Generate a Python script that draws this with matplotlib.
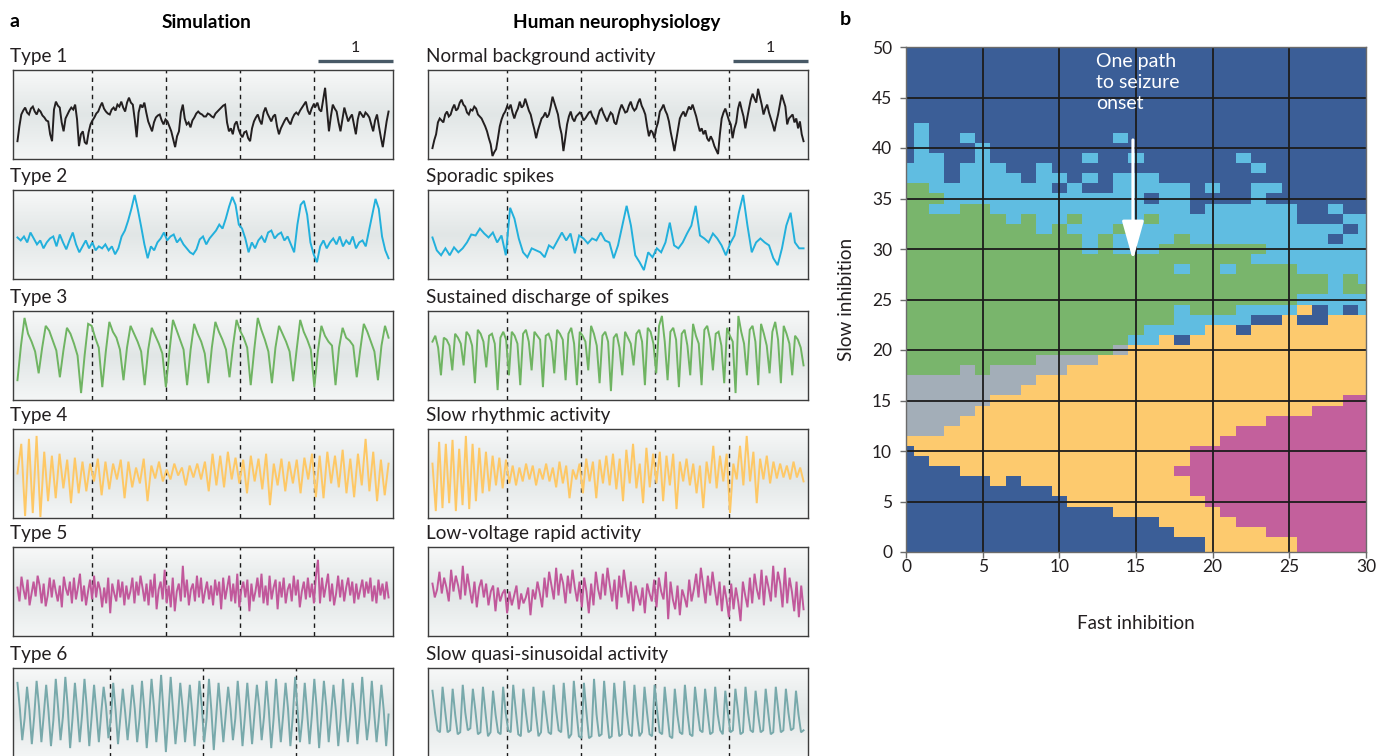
"""Neural mass model: simulated vs. recorded EEG types and the inhibition phase map."""

import numpy as np
import matplotlib
matplotlib.use("Agg")
import matplotlib.pyplot as plt
from matplotlib.colors import ListedColormap, LinearSegmentedColormap

plt.rcParams['font.family'] = ['Lato', 'DejaVu Sans']

# ---------------------------------------------------------------- panel a data
# trace amplitudes in pixels above the centre of each box
SIM_LABELS = ["Type 1", "Type 2", "Type 3", "Type 4", "Type 5", "Type 6"]
HUMAN_LABELS = ["Normal background activity", "Sporadic spikes",
                "Sustained discharge of spikes", "Slow rhythmic activity",
                "Low-voltage rapid activity", "Slow quasi-sinusoidal activity"]
TRACE_COLORS = ["#231f20", "#22b0dc", "#6fb462", "#fec865", "#c1589b", "#78a9ab"]

sim_type1 = [-27, -12, 0, 4, 7, 2, 0, 6, 8, 3, 0, 5, 3, -1, -3, -6, -7, -20, -27, 5,
             13, 9, 7, -8, -17, -4, 0, 4, 7, 5, 10, -5, -32, -20, -17, -28, -30, -18,
             -10, -6, -3, 1, 3, 8, 12, 6, 3, 1, 0, 5, 7, 4, 10, 8, 13, 7, 3, 12, 17,
             12, 10, -5, -23, 2, 10, 7, 12, 2, -7, -12, -17, -8, -3, -1, 0, -6, -10,
             -5, -7, -12, -17, -25, -33, -22, -17, 2, 10, -4, -10, -8, -13, -6, -3, 1,
             3, 1, 0, -2, -2, 1, 0, -2, -3, 1, 3, 5, 7, 9, 10, -8, -17, -14, -20, -10,
             -7, -15, -20, -23, -18, -17, -24, -27, -14, -7, -3, 0, -6, -10, 2, 7, 1,
             -3, -7, -2, 0, -12, -20, -14, -10, -6, -3, -7, -10, -4, 0, 2, 0, 4, 7, 10,
             13, 4, 0, 6, 10, 8, 12, 5, 3, 15, 27, 5, -17, -2, 10, 6, 3, -8, -17, -5, 7,
             0, -7, -3, 0, -10, -20, -5, 3, 0, -3, 2, 0, -3, -10, -17, -6, 0, -12, -23,
             -33, -20, -7, 3]
sim_type2 = [-3, -6, -2, -8, 2, -4, -10, -6, -14, -8, -4, -2, -12, 0, -8, -15, -6,
             2, -10, -18, -12, -6, -14, -8, -16, -12, -14, -10, -16, -12, -20, -14,
             -2, 4, 14, 26, 40, 25, 8, -10, -24, -12, -16, -8, -4, 2, -6, -2, 0, -8,
             -4, -10, -14, -18, -20, -15, -5, -2, -10, -4, 0, 4, 10, 6, 16, 28, 38,
             30, 10, 6, -4, -18, -8, -14, -6, -2, -8, 2, 4, -4, 0, 2, -6, -2, -10,
             -18, 10, 30, 34, 20, -8, -20, -28, -12, -6, -14, -8, -4, -10, -2, -12,
             -6, -10, -2, -14, -8, -6, -12, 4, 20, 36, 26, -2, -16, -24]
sim_type3 = [-25, 10, 38, 22, 14, 4, -18, 8, 30, 25, 15, 5, -22, 5, 28, 22, 12, 0,
             -38, 0, 32, 30, 18, 8, -32, 4, 34, 24, 18, 6, -25, 8, 30, 22, 14, 4,
             -30, 6, 28, 20, 12, 2, -32, 4, 36, 26, 16, 6, -30, 6, 32, 22, 14, 2,
             -28, 8, 34, 24, 16, 6, -22, 10, 36, 25, 18, 8, -30, 6, 38, 26, 16, 4,
             -28, 8, 30, 22, 14, 4, -26, 6, 36, 24, 16, 6, -32, 4, 30, 20, 14, 10,
             -30, 8, 28, 18, 15, 10, -22, 6, 32, 24, 14, 4, -25, 10, 30, 18]
sim_type4 = [0, 30, -43, 35, -40, 38, -44, 22, -28, 18, -25, 20, -15, 14, -30, 16,
             -20, 12, -18, 10, -8, 15, -22, 12, -16, 10, -6, 14, -25, 12, -14, 6,
             -10, 15, -28, 8, -5, 12, -8, 4, -6, 10, -2, 6, -12, 8, -4, 10, -6, 12,
             -18, 20, -12, 18, -14, 22, -6, 16, -10, 14, -20, 18, -8, 15, -16, 20,
             -32, 10, -12, 15, -18, 12, -10, 14, -20, 16, -6, 20, -24, 18, -25, 22,
             -10, 18, -14, 24, -20, 15, -24, 20, -12, 35, -18, 22, -28, 14, -22, 10]
sim_type5 = [4, -10, 15, 2, -8, 12, -14, -2, 10, -5, 16, 6, -12, 8, -15, -4, 14, -6,
             12, 0, -10, 6, -16, 15, 3, -4, 10, -12, 14, -8, 4, 18, -10, 6, -14, 0, 12,
             -8, 16, -6, 10, 2, -16, 4, -12, 14, -22, 8, -2, -10, 12, -6, 10, -14, 6,
             -8, 0, 14, -12, 10, -4, 16, 4, -10, 8, -14, 12, -6, 18, -18, 2, 10, -8, 22,
             -12, 6, -16, 14, -20, 0, 8, -10, 26, -6, 12, -14, 2, 8, -10, 16, -6, 14,
             -12, 0, 10, -8, 6, -14, 12, -4, 10, -18, 14, -8, 4, 16, -10, 8, -12, 18,
             -16, 2, 10, -6, 12, -20, 8, -10, 0, 14, -6, 18, -12, 6, -14, 16, -8, 4, 12,
             -18, 10, -6, 14, -12, 2, 8, -10, 16, -4, 12, -16, 0, 10, -8, 14, -6, 8,
             -12, 16, 32, -12, 14, -6, 6, 18, -10, 8, -14, -2, 16, -6, 12, -10, 4, 14,
             -4, 10, -12, 8, -8, 2, 12, -6, 10, -2, 14, -10, 6, -12, 12, -4, 8, -8, 10,
             -6]
sim_type6 = [30, 4, -28, -6, 26, 2, -32, -4, 32, 6, -30, -2, 28, 0, -34, -8, 34, 4,
             -28, -4, 36, 6, -36, -6, 30, 2, -30, -2, 34, 4, -34, -4, 28, 0, -30, 0,
             26, 6, -26, -6, 30, 2, -32, -4, 24, 0, -28, -2, 28, 4, -30, -6, 32, 2,
             -36, -4, 34, 6, -30, -2, 38, 0, -40, -4, 36, 2, -32, -6, 30, 4, -30, -2,
             28, 0, -34, -4, 32, 6, -30, -6, 34, 2, -38, -4, 30, 0, -30, -2, 26, 4,
             -28, -6, 32, 2, -34, -4, 30, 0, -32, -2, 28, 6, -28, -4, 32, 2, -36, -6,
             34, 0, -30, -2, 30, 4, -34, -4, 36, 2, -30, -6, 30, 0, -32, -2, 34, 4,
             -36, -4, 32, 6, -30, -2, 28, 2, -34, -6, 34, 0, -30, -4, 30, 4, -32, -2,
             36, 2, -28, -6, 32, 0, -30, -4, 28, 2, -34, -2]

human_normal = [-34, -26, -20, -8, -4, -6, -8, 0, 3, -2, 0, 6, 10, 4, 6, 12, 15, 10,
                8, 2, 0, 5, 4, 8, 6, 0, -2, -4, -8, -12, -17, -24, -30, -42, -38, -35,
                -24, -12, -5, 0, 3, 8, 6, 10, 2, -4, 2, 6, 13, 7, 9, 16, 10, 4, 0, -8,
                -15, -24, -16, -10, -4, -2, 2, -3, 0, 8, 18, 12, 6, 0, -12, -20, -37,
                -24, -10, -2, 3, -4, -7, -2, 0, 2, 0, -6, -4, -1, 2, 3, -2, -5, -10, -2,
                4, 6, 1, -3, -7, -2, 2, 0, -8, -10, -2, 5, 10, 6, 2, 3, 9, 13, 7, 4, 6,
                12, 16, 9, 5, 0, -12, -22, -16, -18, -24, -14, -8, 3, 6, 10, 4, 0, -7,
                -18, -27, -37, -26, -15, -4, 0, 3, -2, 3, 8, 5, 10, 4, -2, -10, -17,
                -14, -20, -16, -24, -27, -22, -26, -32, -36, -40, -20, -4, 2, 6, 0, -6,
                -10, -24, -14, -8, 6, 13, 5, -2, -14, -4, 6, 15, 21, 16, 12, 26, 18, 10,
                0, 6, 10, 2, -4, -10, -17, -8, 0, 10, 20, 14, 8, -10, -4, -2, 0, -8, -4,
                -14, -7, -20, -27]
human_sporadic = [-3, -16, -21, -14, -21, -13, -18, -14, -8, 0, -1, 6, 1, -3, 2, -8,
                  -1, -21, 27, 16, -4, -18, -23, -14, -16, -18, -23, -11, -14, -6, 2,
                  -6, 1, -19, -1, -4, -9, -4, -6, 2, -6, -8, -24, -11, 9, 29, 9, -21,
                  -28, -36, -18, -23, -14, -18, -8, 12, -11, -14, -8, 1, 9, 29, -1, -4,
                  -8, 1, -4, -11, -21, -9, -1, 22, 40, 9, -18, -8, -4, -8, -11, -24,
                  -31, -14, 9, 22, -8, -14, -14]
human_sustained = [14, 20, 8, -20, 18, 16, 10, -15, 22, 18, 12, -10, 24, 20, 10, -28,
                   26, 22, 14, -12, 20, 22, 12, -35, 18, 24, 16, -20, 24, 20, 12, -30,
                   22, 26, 14, -15, 24, 20, 16, -32, 20, 22, 14, -18, 26, 22, 16, -25,
                   22, 28, 12, -30, 24, 20, 14, -15, 30, 22, 10, -28, 20, 24, 14, -36,
                   18, 22, 8, -20, 24, 18, 12, -10, 22, 26, 14, -30, 28, 24, 12, -18,
                   30, 40, 14, -25, 24, 28, 16, -32, 22, 26, 10, -20, 32, 20, 12, -30,
                   26, 30, 16, -15, 22, 24, 10, -28, 28, 20, 14, -38, 40, 24, 12, -20,
                   26, 30, 14, -30, 32, 22, 10, -18, 24, 34, 16, -28, 30, 22, 12, -20,
                   20, 16, 8, -10]
human_rhythmic = [10, -38, 32, -35, 30, -30, 34, -38, 25, -32, 38, -36, 30, -28, 26,
                  -20, 22, -18, 18, -12, 16, -15, 14, -10, 8, -12, 6, -8, 10, -6, 8,
                  -12, 5, -6, 10, -8, 6, -14, 12, -10, 8, -25, 4, -6, 10, -20, 15, -8,
                  12, -25, 14, -10, 18, -12, 20, -16, 15, -28, 24, -10, 30, -15, 10,
                  -30, 26, -14, 20, -10, 22, -28, 18, -12, 20, -36, 12, -8, 15, -12, 10,
                  -20, 8, -35, 12, -10, 28, -15, 18, -8, 20, -40, 10, -6, 28, -12, 38,
                  -8, 22, -30, 15, -6, 18, -10, 12, -5, 10, -4, 8, -6, 12, -4, 6, -8]
human_rapid = [8, -6, 2, 20, -2, 14, 4, -10, 22, 0, 16, 6, -8, 26, -4, 18, 2, -12, 10,
               -16, 4, 12, -6, 8, -14, 0, 6, -20, 4, -10, -2, 2, -22, 0, -14, -4, 6,
               -18, -2, -12, -6, 4, -24, 2, -8, 10, -2, -16, 14, -6, 20, 6, -8, 24, -4,
               18, 8, -12, 16, -2, 22, 4, -10, 10, -16, 14, 0, -22, 8, -14, 20, 2, -8,
               18, -4, 24, 6, -10, 12, -18, 16, -6, 22, 4, -12, 10, -20, 6, -4, -14, 4,
               -22, 8, -2, -10, 12, -16, 14, 0, -8, 20, -28, 10, -8, -18, 6, -24, 2, -6,
               -16, 12, -10, 2, 18, -6, 24, 6, -12, 16, -4, 20, 2, -14, 10, -20, 6, -8,
               -26, 8, -18, 4, -10, -30, 10, -4, -16, 14, -12, 18, 2, -8, 22, -14, 16,
               4, -10, 26, -6, 20, 8, -16, 24, -12, 14, 0, -20, 10, -26, 6, -18]
human_sinusoidal = [22, 0, -18, -20, 26, 2, -20, -18, 24, -2, -22, -20, 28, 0, -18,
                    -16, 24, 2, -22, -20, 26, 0, -24, -20, 22, -2, -20, -22, 26, 0,
                    -18, -20, 28, 2, -22, -24, 24, 0, -20, -18, 26, -2, -24, -20, 22,
                    0, -20, -22, 28, 2, -18, -20, 30, 0, -26, -22, 32, 2, -24, -26, 30,
                    0, -26, -24, 34, -2, -24, -22, 32, 0, -26, -24, 30, 2, -24, -22, 32,
                    0, -22, -24, 28, -2, -24, -20, 26, 0, -22, -24, 28, 2, -20, -22, 26,
                    0, -24, -26, 24, -2, -20, -22, 28, 0, -22, -24, 26, 2, -18, -20, 24,
                    0, -22, -20, 26, -2, -18, -22, 22, 0, -20, -18, 24, 2, -22, -20, 26,
                    0, -18, -20, 22, -2, -20, -18, 24, 0, -22, -20, 26, 2, -20, -18, 24,
                    0, -18, -16, 22, -2, -20, -18]

SIM_TRACES = [sim_type1, sim_type2, sim_type3, sim_type4, sim_type5, sim_type6]
HUMAN_TRACES = [human_normal, human_sporadic, human_sustained, human_rhythmic,
                human_rapid, human_sinusoidal]

# ---------------------------------------------------------------- panel b data
# phase map cells (x = 0..30, y = 0..50); each column lists "class + top row"
# from the bottom: D dark blue, Y yellow, M magenta, G grey, N green, L light blue
CLASS_CODES = "DYMGNL"
CLASS_COLORS = ["#3b5e97", "#fdca6e", "#c3609c", "#a3aeb8", "#79b56c", "#60bde1"]
MAP_COLUMNS = [
    "D10 Y11 G17 N36 L38 D50",
    "D9 Y11 G17 N36 L42 D50",
    "D8 Y11 G17 N33 L34 N35 L39 D50",
    "D8 Y12 G17 N33 L36 D50",
    "D7 Y13 G18 N34 L38 D40 L41 D50",
    "D7 Y14 G17 N34 L40 D50",
    "D6 Y15 G18 N33 L38 D50",
    "D7 Y15 G18 N32 L37 D50",
    "D6 Y16 G18 N33 L36 D50",
    "D6 Y17 G19 N31 L38 D50",
    "D5 Y17 G19 N32 L35 D36 L37 D50",
    "D4 Y18 G19 N31 L32 N33 L36 D50",
    "D4 Y18 G19 N29 L35 D36 L37 D38 L39 D50",
    "D4 Y19 N31 L35 D50",
    "D3 Y19 G20 N29 L31 N32 L37 D40 L41 D50",
    "D3 Y20 L21 N29 L37 D38 L39 D50",
    "D3 Y20 L22 N29 L32 N33 L34 D35 L37 D50",
    "D2 Y21 L22 N30 L36 D50",
    "D1 Y7 M8 Y20 D21 L24 N27 L28 N31 L36 D50",
    "D1 Y5 M10 Y21 L23 N30 L33 D50",
    "Y4 M10 Y22 L23 N30 L34 D35 L36 D50",
    "Y3 M11 Y22 L23 N27 L28 N30 L34 D50",
    "Y2 M12 Y21 D22 L24 N30 L34 D38 L39 D50",
    "Y2 M12 Y22 D23 L24 N28 L29 N30 L36 D37 L38 D50",
    "Y1 M13 Y22 D23 L24 N28 L34 D35 L36 D50",
    "Y1 M13 Y23 L24 N28 L34 D50",
    "M13 Y22 D23 Y24 L25 N27 L32 D50",
    "M14 Y22 D24 L25 N27 L32 D50",
    "M14 Y23 L30 D31 L32 D33 L34 D50",
    "M15 Y23 D24 L25 N27 L31 D32 L33 D50",
    "M15 Y23 L25 N26 L33 D50",
]
X_TICKS = [0, 5, 10, 15, 20, 25, 30]
Y_TICKS = [0, 5, 10, 15, 20, 25, 30, 35, 40, 45, 50]

# ---------------------------------------------------------------- layout
W, H = 1390, 756
fig = plt.figure(figsize=(W / 100, H / 100), dpi=100)


def add_px_axes(left, top, width, height):
    return fig.add_axes([left / W, 1 - (top + height) / H, width / W, height / H])


BOX_TOPS = [70, 190, 311, 429, 547, 668]
BOX_H = 89
BOX_W = 380
COL_LEFTS = [13, 428]
LABEL_XS = [10, 426]

box_bg = LinearSegmentedColormap.from_list(
    "box", ["#f7f8f8", "#e1e6e6", "#f4f6f6"])
gradient = np.linspace(0, 1, 64).reshape(-1, 1)


def draw_trace(ax, values, color, seps):
    ax.imshow(gradient, extent=(-0.01, 1.01, -45, 45), cmap=box_bg,
              aspect="auto", zorder=0)
    xs = np.linspace(0, 1, len(values))
    ax.plot(xs, values, color=color, lw=1.4, solid_joinstyle="miter", zorder=3)
    for s in seps:
        ax.axvline(s, color="#1a1a1a", lw=1.0, ls=(0, (3.2, 3.0)), zorder=2)
    ax.set_xlim(-0.012, 1.012)
    ax.set_ylim(-45, 45)
    ax.set_xticks([])
    ax.set_yticks([])
    for sp in ax.spines.values():
        sp.set_color("#3d3d3d")
        sp.set_linewidth(1.0)


fifths = [0.2, 0.4, 0.6, 0.8]
quarters = [0.25, 0.5, 0.75]
for row in range(6):
    top = BOX_TOPS[row]
    for col, (labels, traces) in enumerate([(SIM_LABELS, SIM_TRACES),
                                            (HUMAN_LABELS, HUMAN_TRACES)]):
        ax = add_px_axes(COL_LEFTS[col], top, BOX_W, BOX_H)
        seps = quarters if (col == 0 and row == 5) else fifths
        draw_trace(ax, traces[row], TRACE_COLORS[row], seps)
        fig.text(LABEL_XS[col] / W, 1 - (top - 8) / H, labels[row],
                 fontsize=13.6, color="#231f20", va="baseline", ha="left")

# headers and scale bars
fig.text(10 / W, 1 - 27 / H, "a", fontsize=14, fontweight="bold", va="baseline")
fig.text(206 / W, 1 - 28 / H, "Simulation", fontsize=13.7, fontweight="bold",
         va="baseline", ha="center")
fig.text(617 / W, 1 - 28 / H, "Human neurophysiology", fontsize=13.7,
         fontweight="bold", va="baseline", ha="center")
fig.text(840 / W, 1 - 25 / H, "b", fontsize=14, fontweight="bold", va="baseline")

over = fig.add_axes([0, 0, 1, 1])
over.set_xlim(0, W)
over.set_ylim(H, 0)
over.axis("off")
for left in COL_LEFTS:
    bar_right = left + BOX_W
    over.plot([bar_right - 75, bar_right], [61, 61], color="#485966", lw=2.4,
              solid_capstyle="butt")
    over.text(bar_right - 38, 52, "1", fontsize=11.5, ha="center", va="baseline",
              color="#231f20")

# ---------------------------------------------------------------- panel b
grid = np.zeros((51, 31), dtype=int)
for x, spec in enumerate(MAP_COLUMNS):
    bottom = 0
    for tok in spec.split():
        top_row = int(tok[1:])
        grid[bottom:top_row + 1, x] = CLASS_CODES.index(tok[0])
        bottom = top_row + 1

axb = add_px_axes(906, 47, 460, 505)
axb.imshow(grid, origin="lower", extent=(-0.5, 30.5, -0.5, 50.5),
           cmap=ListedColormap(CLASS_COLORS), vmin=-0.5, vmax=5.5,
           interpolation="nearest", aspect="auto")
for v in X_TICKS[1:-1]:
    axb.axvline(v, color="#1c1c1c", lw=1.3)
for v in Y_TICKS[1:-1]:
    axb.axhline(v, color="#1c1c1c", lw=1.3)
axb.set_xlim(0, 30)
axb.set_ylim(0, 50)
axb.set_xticks(X_TICKS)
axb.set_yticks(Y_TICKS)
axb.tick_params(direction="out", length=4, width=1, color="#6b6b6b",
                labelsize=12.5, labelcolor="#231f20")
axb.tick_params(axis="x", pad=1)
axb.tick_params(axis="y", pad=6)
for sp in axb.spines.values():
    sp.set_color("#6b6b6b")
    sp.set_linewidth(1.0)
axb.set_xlabel("Fast inhibition", fontsize=13.6, color="#231f20", labelpad=29)
axb.set_ylabel("Slow inhibition", fontsize=13.6, color="#231f20", labelpad=12)

axb.annotate("", xy=(14.8, 28.9), xytext=(14.8, 40.8),
             arrowprops=dict(arrowstyle="-|>,head_length=1.5,head_width=0.42",
                             color="white", lw=2.2, mutation_scale=16,
                             shrinkA=0, shrinkB=0))
axb.text(12.4, 49.4, "One path\nto seizure\nonset", color="white", fontsize=14,
         ha="left", va="top", linespacing=1.3)

fig.savefig("out.png", dpi=100)
